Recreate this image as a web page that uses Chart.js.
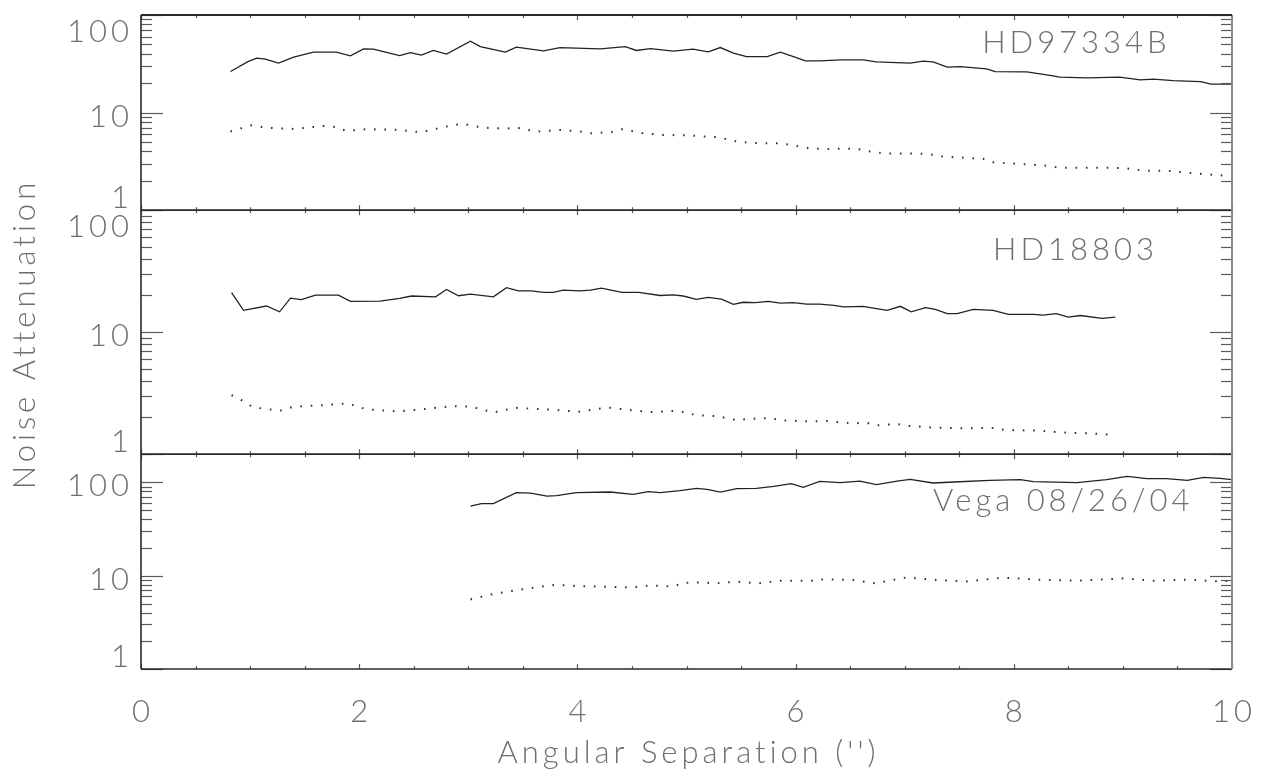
<!DOCTYPE html>
<html><head><meta charset="utf-8">
<script src="https://cdn.jsdelivr.net/npm/chart.js@4.4.0/dist/chart.umd.min.js"></script>
<style>html,body{margin:0;padding:0;background:#fff;} canvas{display:block;}</style>
</head><body>
<canvas id="c" width="1261" height="776"></canvas>
<script>
// ---------- data ----------
const xTickLabels = [0, 2, 4, 6, 8, 10];
const yTickValues = [1, 10, 100];
const xTitle = "Angular Separation ('')";
const yTitle = "Noise Attenuation";
const panelNames = ["HD97334B", "HD18803", "Vega 08/26/04"];

const p1SolidX = [0.82,0.98,1.06,1.14,1.26,1.40,1.58,1.79,1.92,2.04,2.13,2.37,2.47,2.57,2.68,2.80,3.02,3.11,3.34,3.44,3.69,3.84,4.21,4.44,4.54,4.67,4.88,5.06,5.20,5.31,5.43,5.55,5.74,5.86,5.98,6.09,6.22,6.41,6.62,6.74,7.05,7.17,7.26,7.39,7.51,7.75,7.83,8.12,8.36,8.42,8.67,8.97,9.16,9.28,9.46,9.71,9.81,10.0];
const p1SolidY = [26.4,33.3,36.1,35.3,32.1,37.0,41.6,41.6,38.1,45.0,44.7,38.4,41.2,38.8,43.3,39.7,54.0,47.5,41.6,46.9,42.9,46.4,45.0,47.5,43.3,45.3,42.6,44.7,42.0,46.4,40.6,37.5,37.5,41.6,37.5,33.9,33.9,34.7,34.7,33.1,32.1,33.7,33.1,29.2,29.6,28.1,26.3,26.1,23.8,23.1,22.7,23.1,21.6,22.0,21.3,20.8,19.6,19.6];
const p1DotX = [0.82,1.01,1.15,1.40,1.68,1.79,1.88,2.07,2.37,2.56,2.66,2.85,2.95,3.04,3.14,3.34,3.44,3.63,3.83,4.02,4.12,4.31,4.41,4.60,4.79,5.00,5.19,5.29,5.48,5.67,5.87,5.96,6.16,6.26,6.56,6.65,6.83,7.14,7.23,7.35,7.72,7.81,8.30,8.42,9.00,9.19,9.40,9.68,9.98];
const p1DotY = [6.4,7.4,7.0,6.8,7.3,7.1,6.5,6.76,6.65,6.3,6.65,7.4,7.7,7.3,7.0,6.85,7.0,6.4,6.65,6.4,6.15,6.3,6.76,6.15,5.9,5.85,5.67,5.6,5.0,4.86,4.86,4.63,4.27,4.24,4.27,4.05,3.8,3.8,3.74,3.54,3.37,3.1,2.86,2.73,2.71,2.54,2.54,2.37,2.24];

const p2SolidX = [0.83,0.94,1.15,1.27,1.37,1.47,1.60,1.81,1.92,2.19,2.37,2.48,2.70,2.80,2.91,3.02,3.23,3.35,3.46,3.58,3.69,3.78,3.87,4.02,4.12,4.22,4.33,4.41,4.56,4.76,4.88,4.97,5.09,5.20,5.32,5.43,5.52,5.63,5.75,5.86,5.98,6.10,6.22,6.35,6.44,6.62,6.74,6.84,6.96,7.06,7.19,7.28,7.39,7.48,7.63,7.81,7.95,8.18,8.27,8.39,8.50,8.61,8.81,8.93];
const p2SolidY = [21.1,15.1,16.4,14.7,19.0,18.5,20.1,20.1,17.9,18.0,18.9,19.8,19.5,22.4,19.9,20.5,19.5,23.2,21.8,21.8,21.2,21.2,22.1,21.8,22.1,23.0,21.9,21.2,21.2,20.0,20.2,19.8,18.6,19.3,18.7,16.9,17.6,17.5,17.9,17.3,17.5,17.0,17.0,16.6,16.1,16.3,15.6,15.1,16.3,14.7,15.9,15.4,14.2,14.2,15.4,15.1,14.0,14.0,13.8,14.2,13.3,13.7,13.0,13.3];
const p2DotX = [0.83,0.92,1.03,1.18,1.27,1.40,1.69,1.89,2.07,2.36,2.65,2.85,3.03,3.23,3.43,3.72,4.01,4.21,4.30,4.50,4.70,4.90,4.99,5.08,5.28,5.46,5.57,5.77,5.86,6.16,6.25,6.53,6.65,6.74,6.93,7.02,7.23,7.51,7.81,7.92,8.21,8.49,8.70,8.91];
const p2DotY = [3.05,2.78,2.42,2.33,2.27,2.45,2.53,2.61,2.33,2.24,2.37,2.48,2.45,2.20,2.40,2.33,2.23,2.37,2.40,2.29,2.21,2.27,2.21,2.09,2.05,1.90,1.95,1.98,1.90,1.85,1.88,1.79,1.81,1.72,1.77,1.71,1.66,1.63,1.64,1.58,1.56,1.50,1.48,1.44];

const p3SolidX = [3.02,3.12,3.23,3.44,3.57,3.72,3.81,3.99,4.30,4.51,4.65,4.76,4.94,5.09,5.19,5.31,5.46,5.64,5.80,5.96,6.07,6.22,6.41,6.59,6.74,6.93,7.05,7.26,7.45,7.78,8.06,8.18,8.58,8.85,9.04,9.22,9.40,9.59,9.74,9.89,10.0];
const p3SolidY = [55.6,59,59,77.5,76.7,71.2,72,77.5,78.7,74.3,79.5,77.5,81.5,86.1,84.1,78.7,85.5,86.1,90.5,96.8,88.4,102.5,99.3,103,94.4,103,107.7,98.3,100.7,105,107,101.8,99.3,107,116,109.6,109.6,105,113,110,107];
const p3DotX = [3.02,3.20,3.41,3.60,3.80,3.99,4.48,4.68,4.88,4.97,5.15,5.26,5.46,5.66,5.86,6.16,6.22,6.53,6.73,7.02,7.29,7.57,7.90,8.27,8.58,9.00,9.28,9.59,9.89,10.0];
const p3DotY = [5.56,6.25,6.9,7.43,8.0,7.75,7.48,7.86,7.65,8.4,8.45,8.27,8.62,8.27,8.83,8.83,9.12,8.99,8.27,9.59,8.99,8.68,9.51,8.99,8.83,9.35,8.83,9.06,8.68,8.83];

// ---------- styles ----------
const TEXT_FONT = "300 31px Lato, 'DejaVu Sans', sans-serif";
const TEXT_COLOR = '#6e6e6e';
const SPACING = 4;
const toPts = (xs, ys) => xs.map((x, i) => ({x: x, y: ys[i]}));
const solid = (xs, ys, axis) => ({data: toPts(xs, ys), yAxisID: axis, borderColor: '#222', borderWidth: 1.3, pointRadius: 0, tension: 0, fill: false});
const dotted = (xs, ys, axis) => ({data: toPts(xs, ys), yAxisID: axis, borderColor: '#333', borderWidth: 2, borderDash: [1.6, 8.8], pointRadius: 0, tension: 0, fill: false});

const annot = {
  y1: {x: 7.71, y: 40.6},
  y2: {x: 7.81, y: 39.4},
  y3: {x: 7.26, y: 49.1}
};

const decor = {
  id: 'decor',
  afterDraw(chart) {
    const ctx = chart.ctx;
    const xs = chart.scales.x;
    const L = xs.left, R = xs.right;
    const ids = ['y1', 'y2', 'y3'];
    const line = (a, b, c, d) => { ctx.beginPath(); ctx.moveTo(a, b); ctx.lineTo(c, d); ctx.stroke(); };
    const setText = (align) => {
      ctx.fillStyle = TEXT_COLOR;
      ctx.font = TEXT_FONT;
      ctx.textAlign = align;
      ctx.textBaseline = 'alphabetic';
      ctx.letterSpacing = SPACING + 'px';
    };
    ctx.save();
    ids.forEach((id, pi) => {
      const s = chart.scales[id];
      const T = s.top, B = s.bottom;
      ctx.strokeStyle = '#5a5a5a';
      ctx.lineWidth = 1.2;
      for (let k = 0; k <= 3; k++) {
        for (let m = 1; m <= 9; m++) {
          const v = m * Math.pow(10, k);
          if (v < s.min * 0.999 || v > s.max * 1.001) continue;
          const py = Math.round(s.getPixelForValue(v)) + 0.5;
          const len = m === 1 ? 22 : 11;
          line(L, py, L + len, py);
          line(R, py, R - len, py);
        }
      }
      for (let i = 0; i <= 20; i++) {
        const px = Math.round(xs.getPixelForValue(i * 0.5)) + 0.5;
        const len = (i % 4 === 0) ? 5 : 3;
        line(px, T, px, T + len);
        line(px, B, px, B - len);
      }
      setText('right');
      yTickValues.forEach(v => {
        if (v < s.min * 0.999 || v > s.max * 1.001) return;
        const py = s.getPixelForValue(v);
        let base;
        if (Math.abs(py - T) < 3) base = py + 27;
        else if (Math.abs(py - B) < 3) base = py - 2;
        else base = py + 14;
        ctx.fillText(String(v), L - 12 + SPACING, base);
      });
      setText('left');
      ctx.fillText(panelNames[pi], xs.getPixelForValue(annot[id].x), s.getPixelForValue(annot[id].y));
    });
    ctx.strokeStyle = '#2a2a2a';
    ctx.lineWidth = 1.6;
    ids.forEach(id => {
      const s = chart.scales[id];
      line(L, s.top, R, s.top);
      line(L, s.bottom, R, s.bottom);
    });
    const top = chart.scales.y1.top, bot = chart.scales.y3.bottom;
    line(L, top, L, bot);
    ctx.strokeStyle = '#8a8a8a';
    ctx.lineWidth = 2;
    line(R, top, R, bot);
    ctx.strokeStyle = '#2a2a2a';
    ctx.lineWidth = 2;
    line(L, top, R, top);
    setText('center');
    xTickLabels.forEach(v => {
      ctx.fillText(String(v), xs.getPixelForValue(v) + SPACING / 2, bot + 53);
    });
    ctx.fillText(xTitle, (L + R) / 2 + SPACING / 2, bot + 94);
    ctx.save();
    ctx.translate(35, (top + bot) / 2 - 8);
    ctx.rotate(-Math.PI / 2);
    ctx.fillText(yTitle, 0, 0);
    ctx.restore();
    ctx.restore();
  }
};

new Chart(document.getElementById('c'), {
  type: 'line',
  data: {
    datasets: [
      solid(p1SolidX, p1SolidY, 'y1'), dotted(p1DotX, p1DotY, 'y1'),
      solid(p2SolidX, p2SolidY, 'y2'), dotted(p2DotX, p2DotY, 'y2'),
      solid(p3SolidX, p3SolidY, 'y3'), dotted(p3DotX, p3DotY, 'y3')
    ]
  },
  options: {
    responsive: false,
    animation: false,
    devicePixelRatio: 1,
    layout: {padding: {left: 141, right: 29, top: 15, bottom: 107}},
    plugins: {legend: {display: false}, tooltip: {enabled: false}},
    scales: {
      x: {type: 'linear', min: 0, max: 10, display: false},
      y3: {type: 'logarithmic', min: 1, max: 200, display: false, position: 'left', stack: 'panels', stackWeight: 214.8},
      y2: {type: 'logarithmic', min: 1, max: 100, display: false, position: 'left', stack: 'panels', stackWeight: 244},
      y1: {type: 'logarithmic', min: 1, max: 100, display: false, position: 'left', stack: 'panels', stackWeight: 195.2}
    }
  },
  plugins: [decor]
});
</script>
</body></html>
